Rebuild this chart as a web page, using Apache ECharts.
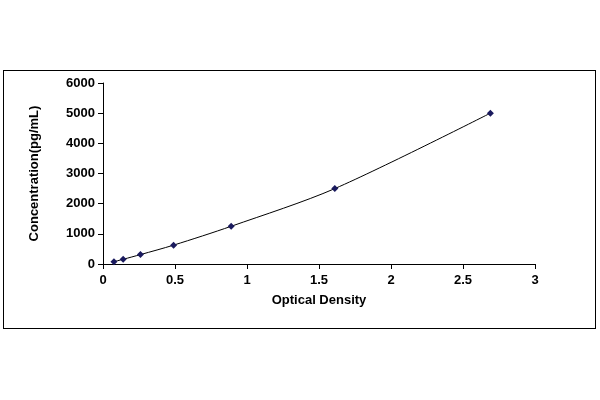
<!DOCTYPE html><html><head><meta charset="utf-8"><script src="https://cdn.jsdelivr.net/npm/echarts@6/dist/echarts.min.js"></script>
<style>html,body{margin:0;background:#fff}#c{width:600px;height:400px}#b{position:absolute;left:3px;top:70px;width:593px;height:259px;border:1px solid #000;box-sizing:border-box}</style></head><body><div id="b"></div><div id="c"></div><script>
const odValues=[0.076,0.14,0.26,0.49,0.89,1.61,2.69];
const concValues=[78,156,312,625,1250,2500,5000];
const data=odValues.map((x,i)=>[x,concValues[i]]);
const ch=echarts.init(document.getElementById('c'));
const ax={color:'#000',fontFamily:'Liberation Sans, Arial',fontSize:13,fontWeight:'bold'};
ch.setOption({animation:false,grid:{left:103,right:65,top:83,bottom:136},
xAxis:{type:'value',min:0,max:3,interval:0.5,name:'Optical Density',nameLocation:'middle',nameGap:30,nameTextStyle:ax,
axisLine:{lineStyle:{color:'#000'}},axisTick:{lineStyle:{color:'#000'}},axisLabel:Object.assign({margin:10},ax),splitLine:{show:false}},
yAxis:{type:'value',min:0,max:6000,interval:1000,name:'Concentration(pg/mL)',nameLocation:'middle',nameGap:62,nameTextStyle:ax,
axisLine:{show:true,lineStyle:{color:'#000'}},axisTick:{show:true,lineStyle:{color:'#000'}},axisLabel:Object.assign({formatter:v=>String(v)},ax),splitLine:{show:false}},
series:[{type:'line',data:data,smooth:0.3,symbol:'diamond',symbolSize:7,itemStyle:{color:'#1a1a5e'},lineStyle:{color:'#000',width:1}}]});
</script></body></html>
